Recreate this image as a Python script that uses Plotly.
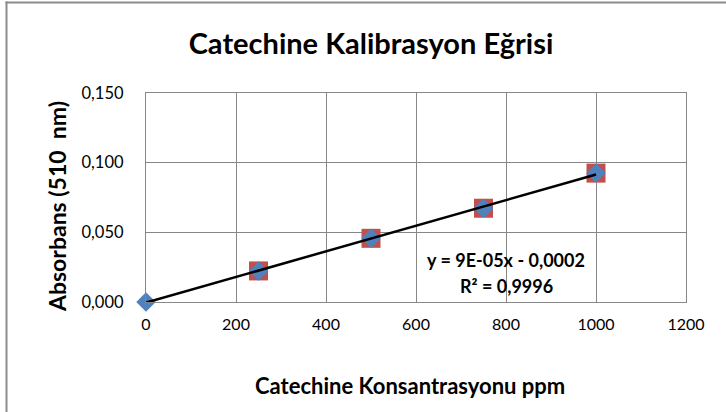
import numpy as np
import plotly.graph_objects as go

# Data
konsantrasyon = [0, 250, 500, 750, 1000]
absorbans = [0.000, 0.0223, 0.0457, 0.0673, 0.0925]
kare_x = [250, 500, 750, 1000]
kare_y = [0.0223, 0.0457, 0.0673, 0.0925]
x_ticks = [0, 200, 400, 600, 800, 1000, 1200]
y_ticks = [0.0, 0.05, 0.10, 0.15]
equation = "y = 9E-05x - 0,0002"
r2_text = "R² = 0,9996"

# trendline (linear fit)
slope, intercept = np.polyfit(konsantrasyon, absorbans, 1)
tx = [min(konsantrasyon), max(konsantrasyon)]
ty = [slope * v + intercept for v in tx]

W, H = 726, 412
ML, MR, MT, MB = 146, 40, 93, 110
PW, PH = W - ML - MR, H - MT - MB

def px_x(p):
    return (p - ML) / PW

def px_y(p):
    return (H - MB - p) / PH

FONT = "Lato"
GRID = "#878787"

fig = go.Figure()
fig.add_trace(go.Scatter(x=kare_x, y=kare_y, mode="markers",
                         marker=dict(symbol="square", size=19, color="#C0504D",
                                     line=dict(width=0)),
                         cliponaxis=False, showlegend=False))
fig.add_trace(go.Scatter(x=konsantrasyon, y=absorbans, mode="markers",
                         marker=dict(symbol="diamond", size=15, color="#4F81BD",
                                     line=dict(width=0)),
                         cliponaxis=False, showlegend=False))
fig.add_trace(go.Scatter(x=tx, y=ty, mode="lines",
                         line=dict(color="black", width=2.5),
                         cliponaxis=False, showlegend=False))

fig.update_layout(
    width=W, height=H,
    margin=dict(l=ML, r=MR, t=MT, b=MB, pad=0),
    paper_bgcolor="white", plot_bgcolor="white",
    separators=",.",
    font=dict(family=FONT, color="black"),
    title=dict(text="<b>Catechine Kalibrasyon Eğrisi</b>", x=371 / W,
               xanchor="center", y=1 - 44 / H, yanchor="middle",
               font=dict(family=FONT, size=29, color="black")),
    xaxis=dict(range=[0, 1200], tickvals=x_ticks, ticktext=[str(v) for v in x_ticks],
               showgrid=True, gridcolor=GRID, gridwidth=1.3,
               showline=True, linecolor=GRID, linewidth=1.3, mirror=True,
               zeroline=False, ticks="outside", ticklen=8, tickcolor="rgba(0,0,0,0)",
               tickfont=dict(family=FONT, size=16, color="black")),
    yaxis=dict(range=[0, 0.15], tickvals=y_ticks, tickformat=".3f",
               showgrid=True, gridcolor=GRID, gridwidth=1.3,
               showline=True, linecolor=GRID, linewidth=1.3, mirror=True,
               zeroline=False, ticks="outside", ticklen=18, tickcolor="rgba(0,0,0,0)",
               tickfont=dict(family=FONT, size=16.5, color="black")),
    annotations=[
        dict(x=800, y=0.030, xref="x", yref="y", text="<b>" + equation + "</b>",
             showarrow=False, xanchor="center", yanchor="middle",
             font=dict(family=FONT, size=18, color="black")),
        dict(x=800, y=0.0113, xref="x", yref="y", text="<b>" + r2_text + "</b>",
             showarrow=False, xanchor="center", yanchor="middle",
             font=dict(family=FONT, size=18, color="black")),
        dict(x=px_x(410), y=px_y(385), xref="paper", yref="paper",
             text="<b>Catechine Konsantrasyonu ppm</b>", showarrow=False,
             xanchor="center", yanchor="middle",
             font=dict(family=FONT, size=22, color="black")),
        dict(x=px_x(57), y=px_y(207), xref="paper", yref="paper",
             text="<b>Absorbans (510  nm)</b>", showarrow=False, textangle=-90,
             xanchor="center", yanchor="middle",
             font=dict(family=FONT, size=23, color="black")),
    ],
    shapes=[
        dict(type="line", xref="paper", yref="paper",
             x0=px_x(6.5), x1=px_x(6.5), y0=px_y(1.5), y1=px_y(H + 5),
             line=dict(color="#8C8C8C", width=2)),
        dict(type="line", xref="paper", yref="paper",
             x0=px_x(5.5), x1=px_x(W + 5), y0=px_y(2.5), y1=px_y(2.5),
             line=dict(color="#8C8C8C", width=2)),
    ],
)

fig.write_html("out.html", config={"displayModeBar": False},
               post_script="document.body.style.margin='0';document.body.style.overflow='hidden';")
